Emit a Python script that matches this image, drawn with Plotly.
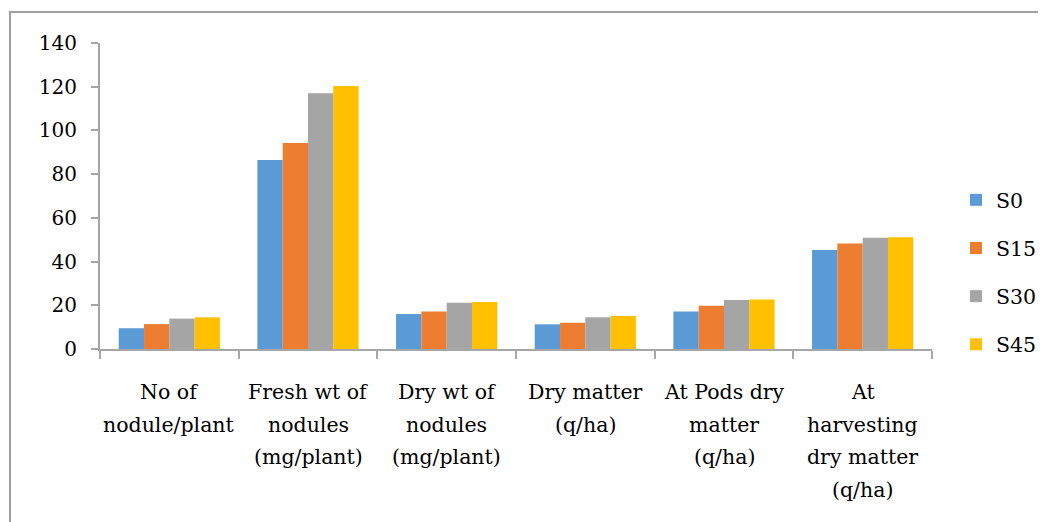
import plotly.graph_objects as go

categories = [
    "No of<br>nodule/plant",
    "Fresh wt of<br>nodules<br>(mg/plant)",
    "Dry wt of<br>nodules<br>(mg/plant)",
    "Dry matter<br>(q/ha)",
    "At Pods dry<br>matter<br>(q/ha)",
    "At<br>harvesting<br>dry matter<br>(q/ha)",
]
s0 = [9.5, 86.5, 16.0, 11.3, 17.1, 45.3]
s15 = [11.4, 94.2, 17.1, 12.0, 19.8, 48.3]
s30 = [13.9, 117.0, 21.2, 14.5, 22.4, 50.9]
s45 = [14.5, 120.3, 21.5, 15.1, 22.6, 51.1]
series_names = ["S0", "S15", "S30", "S45"]
series_values = [s0, s15, s30, s45]
colors = ["#5B9BD5", "#ED7D31", "#A5A5A5", "#FFC000"]
y_ticks = [0, 20, 40, 60, 80, 100, 120, 140]

FONT = "DejaVu Serif"

fig = go.Figure()
for name, vals, col in zip(series_names, series_values, colors):
    fig.add_trace(go.Bar(
        x=categories, y=vals, name=name, marker_color=col,
        marker_line_width=0, legendgroup=name,
    ))

# page body has an 8px offset; compensate
OFF = 8
W, H = 1046, 522
L, R, T, B = 100 - OFF, 114 + OFF, 43 - OFF, 173 + OFF
pw, ph = W - L - R, H - T - B

def px_to_paper_x(px):
    return (px - OFF - L) / pw

def px_to_paper_y(py):
    return (H - B - (py - OFF)) / ph

fig.add_shape(type="rect", xref="paper", yref="paper",
              x0=px_to_paper_x(10), x1=px_to_paper_x(1070),
              y0=px_to_paper_y(560), y1=px_to_paper_y(12),
              line=dict(color="#a0a0a0", width=2), layer="below")

# category labels, one annotation per line for Word-like line spacing
LINE0, LINE_STEP = 392, 32.7
for cat in categories:
    for i, line in enumerate(cat.split("<br>")):
        fig.add_annotation(
            x=cat, xref="x", y=px_to_paper_y(LINE0 + LINE_STEP * i), yref="paper",
            text=line, showarrow=False, xanchor="center", yanchor="middle",
            font=dict(family=FONT, size=20.5, color="black"),
        )

fig.update_layout(
    width=W, height=H,
    margin=dict(l=L, r=R, t=T, b=B),
    paper_bgcolor="white", plot_bgcolor="white",
    barmode="group", bargap=0.27, bargroupgap=0,
    font=dict(family=FONT, size=20, color="black"),
    showlegend=True,
    legend=dict(
        x=px_to_paper_x(956), xanchor="left",
        y=px_to_paper_y(180), yanchor="top",
        font=dict(family=FONT, size=20.5, color="black"),
        traceorder="grouped", tracegroupgap=18.5,
        itemwidth=30, bgcolor="rgba(0,0,0,0)",
    ),
)
fig.update_xaxes(
    type="category", showline=True, linecolor="#a6a6a6", linewidth=2,
    ticks="outside", tickson="boundaries", ticklen=8, tickcolor="#a6a6a6",
    tickwidth=2, showgrid=False, showticklabels=False,
)
fig.update_yaxes(
    range=[0, 140], tickvals=y_ticks, showline=True, linecolor="#a6a6a6",
    linewidth=2, ticks="outside", ticklen=7, tickcolor="#a6a6a6", tickwidth=2,
    showgrid=False, zeroline=False, tickfont=dict(family=FONT, size=20),
    ticklabelstandoff=10,
)

fig.write_html("out.html")
